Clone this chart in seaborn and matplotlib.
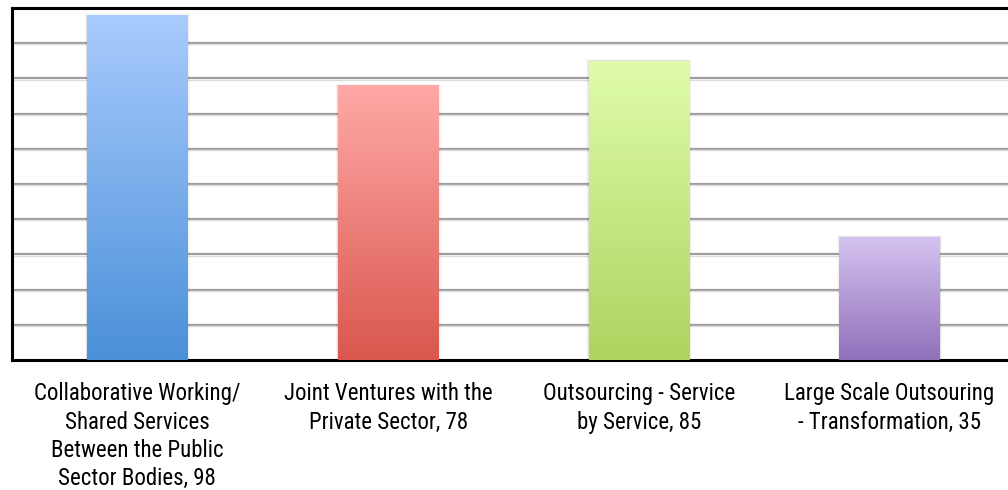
import numpy as np
import pandas as pd
import matplotlib
matplotlib.use("Agg")
import matplotlib.pyplot as plt
import seaborn as sns
from matplotlib.colors import LinearSegmentedColormap
from matplotlib.patches import Rectangle

categories = [
    "Collaborative Working/\nShared Services\nBetween the Public\nSector Bodies, 98",
    "Joint Ventures with the\nPrivate Sector, 78",
    "Outsourcing - Service\nby Service, 85",
    "Large Scale Outsouring\n- Transformation, 35",
]
values = [98, 78, 85, 35]
top_colors = ["#A9CBFD", "#FFA9A6", "#E0FCAA", "#D5C4F1"]
bottom_colors = ["#4A90D9", "#D9574E", "#AFD35F", "#9070BA"]

sns.set_style("white")
plt.rcParams['font.family'] = ['Roboto Condensed', 'Liberation Sans', 'DejaVu Sans']

df = pd.DataFrame({'category': categories, 'value': values})

fig = plt.figure(figsize=(10.08, 4.9), dpi=100)
ax = fig.add_axes([12 / 1008, 130 / 490, 1003 / 1008, 352 / 490])

sns.barplot(data=df, x='category', y='value', width=0.4, ax=ax,
            color='white', edgecolor='none', zorder=3)

ax.set_xlim(-0.5, 3.5)
ax.set_ylim(0, 100)

# gradient fill + soft shadow for each bar
grad = np.linspace(1, 0, 256).reshape(-1, 1)
for patch, c_top, c_bot in zip(ax.patches, top_colors, bottom_colors):
    x0, y0 = patch.get_x(), patch.get_y()
    w, h = patch.get_width(), patch.get_height()
    for i, a in enumerate([0.06, 0.035, 0.02]):
        d = (i + 1) * 0.003
        ax.add_patch(Rectangle((x0 - d, y0), w + 2 * d, h + d * 50,
                               facecolor='black', alpha=a, edgecolor='none',
                               zorder=2.5))
    cmap = LinearSegmentedColormap.from_list('g', [c_bot, c_top])
    im = ax.imshow(grad, cmap=cmap, aspect='auto',
                   extent=[x0, x0 + w, y0, y0 + h], zorder=3.5,
                   interpolation='bicubic')
    im.set_clip_path(patch)
    patch.set_facecolor('none')

ax.set_xlim(-0.5, 3.5)
ax.set_ylim(0, 100)

for yv in range(10, 100, 10):
    ax.axhline(yv, color='#9e9e9e', linewidth=1.6, zorder=1)
    ax.axhline(yv - 0.35, color='#dcdcdc', linewidth=1.0, zorder=1)

ax.set_yticks([])
ax.set_xlabel('')
ax.set_ylabel('')
ax.tick_params(axis='x', length=0, pad=16, labelsize=16.5, labelcolor='black')
for lab in ax.get_xticklabels():
    lab.set_linespacing(1.3)

for side in ['top', 'left', 'bottom']:
    ax.spines[side].set_color('black')
    ax.spines[side].set_linewidth(2.2)
ax.spines['right'].set_visible(False)

plt.savefig('out.png', dpi=100)
